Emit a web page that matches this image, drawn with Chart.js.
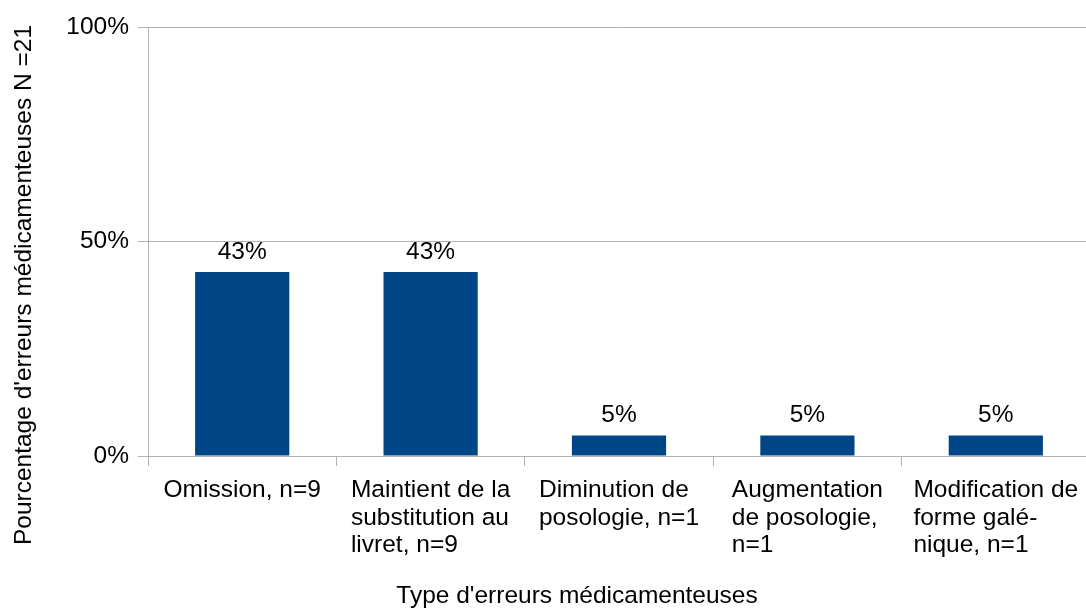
<!DOCTYPE html>
<html lang="fr">
<head>
    <meta charset="UTF-8">
    <title>Type d'erreurs médicamenteuses</title>
    <script src="https://cdn.jsdelivr.net/npm/chart.js"></script>
    <style>
        body { margin: 0; overflow: hidden; background: #fff; }
        #grafico { width: 1090px; height: 608px; }
    </style>
</head>
<body>
    <div id="grafico">
        <canvas id="grafico-info" width="1090" height="608"></canvas>
    </div>
    <script>
        // données
        const categories = [
            ['Omission, n=9'],
            ['Maintient de la', 'substitution au', 'livret, n=9'],
            ['Diminution de', 'posologie, n=1'],
            ['Augmentation', 'de posologie,', 'n=1'],
            ['Modification de', 'forme galé-', 'nique, n=1']
        ];
        const pourcentages = [42.9, 42.9, 4.8, 4.8, 4.8];
        const ticksY = [0, 50, 100];
        const titreX = "Type d'erreurs médicamenteuses";
        const titreY = "Pourcentage d'erreurs médicamenteuses N =21";

        const police = '24.5px "Liberation Sans", Arial, sans-serif';

        // étiquettes multi-lignes alignées à gauche, valeurs et titres des axes
        const textes = {
            id: 'textes',
            afterDraw(chart) {
                const ctx = chart.ctx;
                const x = chart.scales.x;
                const y = chart.scales.y;
                ctx.save();
                ctx.font = police;
                ctx.fillStyle = '#000';
                ctx.textBaseline = 'alphabetic';

                categories.forEach((lignes, i) => {
                    const cx = x.getPixelForValue(i);
                    const largeur = Math.max(...lignes.map(l => ctx.measureText(l).width));
                    ctx.textAlign = 'left';
                    lignes.forEach((l, j) => {
                        ctx.fillText(l, cx - largeur / 2, y.bottom + 41 + j * 27.5);
                    });
                });

                ctx.textAlign = 'center';
                const meta = chart.getDatasetMeta(0);
                meta.data.forEach((barre, i) => {
                    ctx.fillText(Math.round(pourcentages[i]) + '%', barre.x, barre.y - 13);
                });

                ctx.fillText(titreX, 577, 603);

                ctx.translate(31, 285);
                ctx.rotate(-Math.PI / 2);
                ctx.fillText(titreY, 0, 0);
                ctx.restore();
            }
        };

        function criarGrafico() {
            const ctx = document.getElementById('grafico-info').getContext('2d');
            new Chart(ctx, {
                type: 'bar',
                data: {
                    labels: categories,
                    datasets: [{
                        data: pourcentages,
                        backgroundColor: '#004586',
                        categoryPercentage: 1,
                        barPercentage: 0.5
                    }]
                },
                options: {
                    responsive: false,
                    animation: false,
                    layout: { padding: { top: 27, right: 0 } },
                    plugins: {
                        legend: { display: false },
                        tooltip: { enabled: false }
                    },
                    scales: {
                        x: {
                            offset: true,
                            grid: {
                                offset: true,
                                drawOnChartArea: false,
                                color: '#b3b3b3',
                                tickLength: 10
                            },
                            border: { color: '#b3b3b3' },
                            ticks: { display: false },
                            afterFit(scale) { scale.height = 152; }
                        },
                        y: {
                            min: 0,
                            max: 100,
                            afterBuildTicks(scale) {
                                scale.ticks = ticksY.map(v => ({ value: v }));
                            },
                            grid: { color: '#b3b3b3', tickLength: 10 },
                            border: { color: '#b3b3b3' },
                            ticks: {
                                padding: 9,
                                color: '#000',
                                font: { family: '"Liberation Sans", Arial, sans-serif', size: 24.5 },
                                callback: v => v + '%'
                            },
                            afterFit(scale) { scale.width = 148; }
                        }
                    }
                },
                plugins: [textes]
            });
        }

        window.onload = function() {
            criarGrafico();
        };
    </script>
</body>
</html>
